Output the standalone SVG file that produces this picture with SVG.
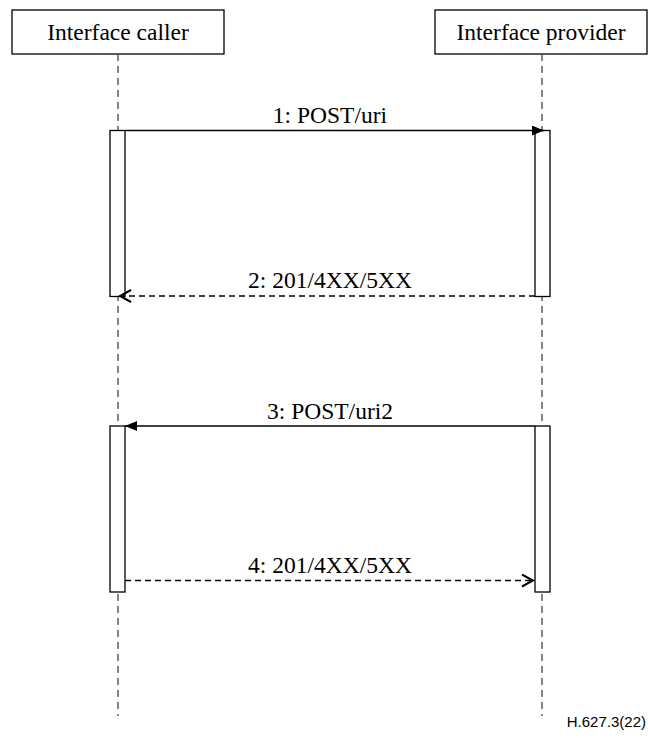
<svg xmlns="http://www.w3.org/2000/svg" width="648" height="738" viewBox="0 0 648 738">
<style>
.box{fill:#fff;stroke:#000;stroke-width:1.3}
.life{stroke:#444;stroke-width:1.3;stroke-dasharray:7,5;fill:none}
.bar{fill:#fff;stroke:#000;stroke-width:1.3}
.msg{stroke:#000;stroke-width:1.3;fill:none}
.ret{stroke:#000;stroke-width:1.3;fill:none;stroke-dasharray:6,4}
.t{font-family:"Liberation Serif","Times New Roman",serif;font-size:23.5px;fill:#000;text-anchor:middle}
.f{font-family:"Liberation Sans",Arial,sans-serif;font-size:15px;fill:#000;text-anchor:end}
</style>
<defs>
<marker id="fill" markerWidth="12" markerHeight="10" refX="12" refY="5" orient="auto" markerUnits="userSpaceOnUse">
<path d="M0,0 L12,5 L0,10 Z" fill="#000"/>
</marker>
<marker id="open" markerWidth="14" markerHeight="14" refX="12" refY="7" orient="auto" markerUnits="userSpaceOnUse">
<path d="M1,1 L12,7 L1,13" fill="none" stroke="#000" stroke-width="2"/>
</marker>
</defs>
<g id="caller">
<rect class="box" x="12" y="10" width="212" height="44"/>
<text class="t" x="118" y="40">Interface caller</text>
<line class="life" x1="118" y1="54" x2="118" y2="716"/>
</g>
<g id="provider">
<rect class="box" x="435" y="10" width="212" height="44"/>
<text class="t" x="541" y="40">Interface provider</text>
<line class="life" x1="542" y1="54" x2="542" y2="716"/>
</g>
<g id="activations">
<rect class="bar" x="110" y="130.5" width="15" height="166"/>
<rect class="bar" x="535" y="130.5" width="15" height="166"/>
<rect class="bar" x="110" y="426" width="15" height="166"/>
<rect class="bar" x="535" y="426" width="15" height="166"/>
</g>
<g id="connectors">
<line class="msg" x1="125" y1="130.5" x2="544" y2="130.5" marker-end="url(#fill)"/>
<text class="t" x="330" y="123">1: POST/uri</text>
<line class="ret" x1="535" y1="296" x2="120" y2="296" marker-end="url(#open)"/>
<text class="t" x="330" y="288">2: 201/4XX/5XX</text>
<line class="msg" x1="535" y1="426" x2="125" y2="426" marker-end="url(#fill)"/>
<text class="t" x="330" y="419">3: POST/uri2</text>
<line class="ret" x1="125" y1="580.5" x2="533" y2="580.5" marker-end="url(#open)"/>
<text class="t" x="330" y="573">4: 201/4XX/5XX</text>
</g>
<text class="f" x="646" y="727">H.627.3(22)</text>
</svg>
